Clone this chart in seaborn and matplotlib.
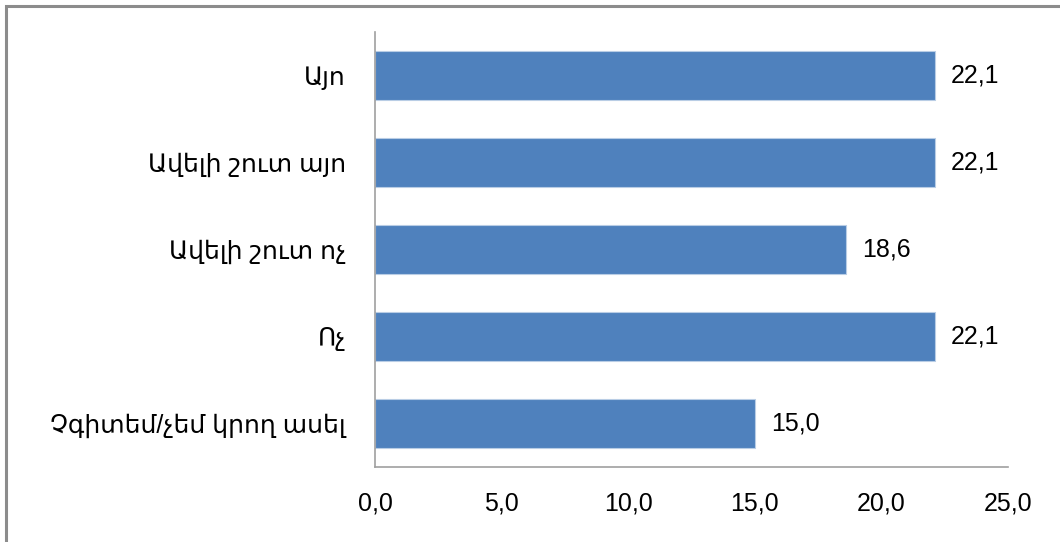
import matplotlib
matplotlib.use("Agg")
import matplotlib.pyplot as plt
from matplotlib.patches import Rectangle
import seaborn as sns
import pandas as pd

categories = ["Այո", "Ավելի շուտ այո", "Ավելի շուտ ոչ", "Ոչ", "Չգիտեմ/չեմ կրող ասել"]
values = [22.1, 22.1, 18.6, 22.1, 15.0]
xticks = [0, 5, 10, 15, 20, 25]

sns.set_theme(style="white")
plt.rcParams["font.family"] = ["Liberation Sans", "DejaVu Sans"]

df = pd.DataFrame({"cat": categories, "val": values})

W, H = 1060, 542
fig = plt.figure(figsize=(W / 100, H / 100), dpi=100)
ax = fig.add_axes([375 / W, 1 - 467 / H, (1008 - 375) / W, (467 - 32) / H])

sns.barplot(data=df, x="val", y="cat", orient="h", color="#4F81BD",
            saturation=1, width=0.56, edgecolor="#B9CDE5", linewidth=0.8, ax=ax)

ax.set_xlim(0, 25)
ax.set_ylim(4.5, -0.5)
ax.set_xticks(xticks)
ax.set_xticklabels([f"{t:.1f}".replace(".", ",") for t in xticks], fontsize=18, color="#000000")
ax.set_yticks(range(len(categories)))
ax.set_yticklabels(categories, fontsize=18, color="#000000")
ax.tick_params(axis="x", length=0, pad=18)
ax.tick_params(axis="y", length=0, pad=21)
ax.set_xlabel("")
ax.set_ylabel("")

for s in ["top", "right"]:
    ax.spines[s].set_visible(False)
for s in ["left", "bottom"]:
    ax.spines[s].set_color("#A0A0A0")
    ax.spines[s].set_linewidth(1.2)

for i, v in enumerate(values):
    ax.annotate(f"{v:.1f}".replace(".", ","), xy=(v, i), xytext=(11.5, 0),
                textcoords="offset points", ha="left", va="center",
                fontsize=18, color="#000000")

# outer chart frame
fig.add_artist(Rectangle((5.5 / W, -0.1), 1.2, 1.1 - 5.5 / H, transform=fig.transFigure,
                         fill=False, edgecolor="#8C8C8C", linewidth=2.2))

fig.savefig("out.png", dpi=100)
